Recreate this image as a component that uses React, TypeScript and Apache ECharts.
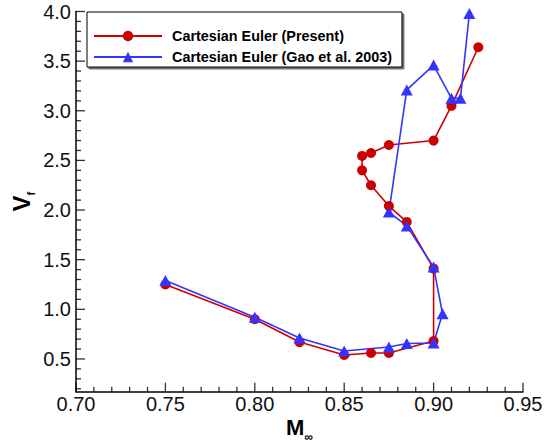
import React, { useEffect, useRef } from "react";
import * as echarts from "echarts";

const SERIES_NAMES = ["Cartesian Euler (Present)", "Cartesian Euler (Gao et al. 2003)"];

const PRESENT_M = [0.75, 0.8, 0.825, 0.85, 0.865, 0.875, 0.9, 0.9, 0.885, 0.875, 0.865, 0.86, 0.86, 0.865, 0.875, 0.9, 0.91, 0.925];
const PRESENT_V = [1.25, 0.9, 0.67, 0.54, 0.56, 0.56, 0.68, 1.41, 1.88, 2.04, 2.25, 2.4, 2.545, 2.575, 2.655, 2.7, 3.05, 3.64];

const GAO_M = [0.75, 0.8, 0.825, 0.85, 0.875, 0.885, 0.9, 0.905, 0.9, 0.885, 0.875, 0.885, 0.9, 0.91, 0.915, 0.92];
const GAO_V = [1.29, 0.92, 0.71, 0.58, 0.62, 0.655, 0.66, 0.955, 1.425, 1.84, 1.98, 3.21, 3.46, 3.125, 3.125, 3.98];

const X_MIN = 0.7;
const X_MAX = 0.95;
const X_STEP = 0.05;
const X_TICKS = [0.7, 0.75, 0.8, 0.85, 0.9, 0.95];
const X_MINOR: number[] = [];
for (let i = 71; i <= 94; i++) {
  if (i % 5 !== 0) X_MINOR.push(i / 100);
}
const Y_MIN = 0.17;
const Y_MAX = 4.0;
const Y_TICKS = [0.5, 1.0, 1.5, 2.0, 2.5, 3.0, 3.5, 4.0];
const Y_MINOR: number[] = [];
for (let i = 2; i <= 39; i++) {
  if (i % 5 !== 0) Y_MINOR.push(i / 10);
}

const FONT = "'Liberation Sans', Arial, Helvetica, sans-serif";

function tickSeries(data: number[][], size: number[], offset: number[]) {
  return {
    type: "scatter",
    data,
    symbol: "rect",
    symbolSize: size,
    symbolOffset: offset,
    silent: true,
    clip: false,
    z: 5,
    itemStyle: { color: "#000" },
    emphasis: { disabled: true },
    tooltip: { show: false },
  };
}

export default function App() {
  const ref = useRef<HTMLDivElement>(null);
  useEffect(() => {
    document.body.style.margin = "0";
    if (!ref.current) return;
    const chart = echarts.init(ref.current, undefined, { renderer: "svg" });
    const present = PRESENT_M.map((m, i) => [m, PRESENT_V[i]]);
    const gao = GAO_M.map((m, i) => [m, GAO_V[i]]);
    chart.setOption({
      animation: false,
      backgroundColor: "#fff",
      textStyle: { fontFamily: FONT },
      grid: { left: 76, right: 21, top: 11.5, bottom: 51.3, outerBoundsMode: "none" },
      legend: {
        orient: "vertical",
        left: 87,
        top: 12,
        padding: [17, 10, 3, 6],
        itemWidth: 68,
        itemHeight: 13,
        itemGap: 7,
        borderColor: "#000",
        borderWidth: 1,
        backgroundColor: "#fff",
        shadowColor: "rgba(0,0,0,0.55)",
        shadowOffsetX: 2,
        shadowOffsetY: 2,
        shadowBlur: 1,
        textStyle: { fontSize: 14.4, fontWeight: "bold", color: "#000", fontFamily: FONT, padding: [0, 0, 0, 5] },
        data: SERIES_NAMES,
      },
      xAxis: {
        type: "value",
        min: X_MIN,
        max: X_MAX,
        interval: X_STEP,
        name: "{m|M}{s|∞}",
        nameLocation: "middle",
        nameGap: 21,
        nameMoveOverlap: false,
        nameTextStyle: {
          rich: {
            m: { fontSize: 22, fontWeight: "bold", color: "#000", fontFamily: FONT, lineHeight: 30 },
            s: { fontSize: 12, fontWeight: "bold", color: "#000", fontFamily: FONT, lineHeight: 12, verticalAlign: "bottom" },
          },
        },
        axisLine: { show: true, onZero: false, lineStyle: { color: "#000", width: 1.5 } },
        axisTick: { show: false },
        splitLine: { show: false },
        axisLabel: {
          fontSize: 20,
          color: "#111",
          margin: 2,
          fontFamily: FONT,
          formatter: (v: number) => v.toFixed(2),
        },
      },
      yAxis: {
        type: "value",
        min: Y_MIN,
        max: Y_MAX,
        name: "{v|V}{s|f}",
        nameLocation: "middle",
        nameGap: 40,
        nameRotate: 90,
        nameMoveOverlap: false,
        nameTextStyle: {
          rich: {
            v: { fontSize: 24, fontWeight: "bold", color: "#000", fontFamily: FONT, lineHeight: 30 },
            s: { fontSize: 11, fontWeight: "bold", color: "#000", fontFamily: FONT, lineHeight: 11, verticalAlign: "bottom" },
          },
        },
        axisLine: { show: true, onZero: false, lineStyle: { color: "#000", width: 1.5 } },
        axisTick: { show: false },
        splitLine: { show: false },
        axisLabel: {
          fontSize: 20,
          color: "#111",
          margin: 5,
          fontFamily: FONT,
          customValues: Y_TICKS,
          formatter: (v: number) => v.toFixed(1),
        },
      },
      series: [
        tickSeries(X_TICKS.map((v) => [v, Y_MIN]), [1.3, 9], [0, -4.5]),
        tickSeries(X_MINOR.map((v) => [v, Y_MIN]), [1.3, 5], [0, -2.5]),
        tickSeries(Y_TICKS.map((v) => [X_MIN, v]), [9, 1.3], [4.5, 0]),
        tickSeries(Y_MINOR.map((v) => [X_MIN, v]), [5, 1.3], [2.5, 0]),
        {
          name: SERIES_NAMES[0],
          type: "line",
          data: present,
          symbol: "circle",
          symbolSize: 10,
          showAllSymbol: true,
          lineStyle: { color: "#cc0000", width: 1.6 },
          itemStyle: { color: "#cc0000" },
        },
        {
          name: SERIES_NAMES[1],
          type: "line",
          data: gao,
          symbol: "triangle",
          symbolSize: [12, 11],
          showAllSymbol: true,
          lineStyle: { color: "#3434ff", width: 1.6 },
          itemStyle: { color: "#3434ff" },
        },
      ],
    });

    return () => chart.dispose();
  }, []);
  return <div ref={ref} style={{ width: 544, height: 443 }} />;
}
